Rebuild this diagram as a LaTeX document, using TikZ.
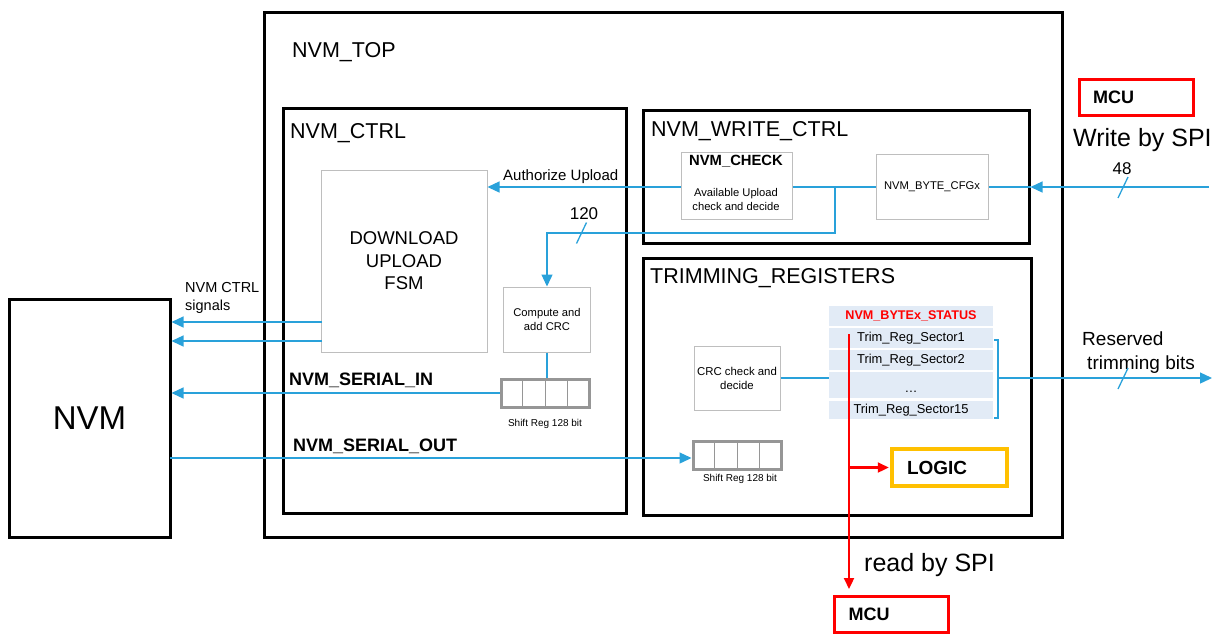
\documentclass[tikz,border=0pt]{standalone}
\usepackage{fontspec}
\setmainfont{Liberation Sans}
\usetikzlibrary{
    arrows.meta,
    calc,
    positioning
}

\definecolor{sigblue}{RGB}{41,161,218}
\definecolor{regfill}{RGB}{226,235,246}
\definecolor{logicorange}{RGB}{255,192,0}
\definecolor{boxgray}{RGB}{190,190,190}
\definecolor{srgray}{RGB}{150,150,150}

\newcommand{\fsz}[2]{\fontsize{#1}{#2}\selectfont}

\begin{document}
\begin{tikzpicture}[x=1pt, y=-1pt,
    frame/.style={draw, line width=3pt, inner sep=0pt},
    frametitle/.style={anchor=west, inner sep=0pt, font=\fsz{21.5}{24}},
    blk/.style={draw=boxgray, line width=1pt, fill=white, align=center, inner sep=0pt},
    sreg/.style={draw=srgray, line width=3pt, minimum width=88pt, minimum height=28pt, inner sep=0pt},
    regrow/.style={fill=regfill, minimum width=164pt, inner sep=0pt, font=\fsz{12.9}{15}},
    mcubox/.style={draw=red, line width=3pt, align=left, inner xsep=14pt, text width=86pt, minimum height=36pt, font=\bfseries\fsz{18}{20}},
    sig/.style={sigblue, line width=1.3pt},
    sigarrow/.style={sig, -{Triangle[length=12pt, width=11pt]}},
    rd/.style={red, line width=2.2pt, -{Triangle[length=11pt, width=10pt]}}
]
                        \useasboundingbox (0,0) rectangle (1230,633);

                        % frames
                        \node[frame, minimum width=798pt, minimum height=525pt] (top) at (663,274.5) {};
                        \node[frametitle] (toplbl) at (292,52) {NVM\_TOP};
                        \node[frame, minimum width=343pt, minimum height=405pt] (ctrl) at (454.5,310.5) {};
                        \node[frametitle] (ctrllbl) at (290,133) {NVM\_CTRL};
                        \node[frame, minimum width=386pt, minimum height=133pt] (wctrl) at (836,176.5) {};
                        \node[frametitle] (wctrllbl) at (651,131) {NVM\_WRITE\_CTRL};
                        \node[frame, minimum width=388pt, minimum height=257pt] (trim) at (837,386.5) {};
                        \node[frametitle] (trimlbl) at (650,278) {TRIMMING\_REGISTERS};
                        \node[frame, minimum width=161pt, minimum height=238pt, font=\fsz{33}{36}] (nvm) at (89.5,418) {NVM};

                        % NVM_CTRL content
                        \node[blk, minimum width=166pt, minimum height=182pt, font=\fsz{18.5}{22.5}] (fsm) at (404,261) {DOWNLOAD\\UPLOAD\\FSM};
                        \node[blk, minimum width=87pt, minimum height=65pt, font=\fsz{11.2}{14}] (crc) at (547,319.5) {Compute and\\add CRC};
                        \node[sreg] (sr1) at (545,393) {};
                        \node[font=\fsz{10}{12}] (sr1lbl) at (545,424) {Shift Reg 128 bit};

                        % NVM_WRITE_CTRL content
                        \node[blk, minimum width=111pt, minimum height=67pt] (check) at (736.5,185.5) {};
                        \node[font=\bfseries\fsz{14.8}{17}] (checkttl) at (736,161.5) {NVM\_CHECK};
                        \node[font=\fsz{11.2}{13.5}, align=center] (checktxt) at (736,199.5) {Available Upload\\check and decide};
                        \node[blk, minimum width=112pt, minimum height=65pt, font=\fsz{11.2}{13}] (cfg) at (932,186.5) {NVM\_BYTE\_CFGx};

                        % TRIMMING_REGISTERS content
                        \node[blk, minimum width=86pt, minimum height=64pt, font=\fsz{11.4}{14}] (crcchk) at (737,378) {CRC check and\\decide};
                        \node[sreg] (sr2) at (737,455) {};
                        \node[font=\fsz{10}{12}] (sr2lbl) at (740,479) {Shift Reg 128 bit};
                        \node[regrow, minimum height=20pt, text=red, font=\bfseries\fsz{12.6}{15}] (hdr) at (911,316) {NVM\_BYTEx\_STATUS};
                        \node[regrow, minimum height=20pt] (row1) at (911,338) {Trim\_Reg\_Sector1};
                        \node[regrow, minimum height=20pt] (row2) at (911,360) {Trim\_Reg\_Sector2};
                        \node[regrow, minimum height=26pt] (row3) at (911,385) {\dots\rule{0pt}{14pt}};
                        \node[regrow, minimum height=18pt] (row4) at (911,410) {Trim\_Reg\_Sector15};
                        \node[draw=logicorange, line width=3.5pt, align=left, inner xsep=15pt, text width=85pt, minimum height=37pt, font=\bfseries\fsz{19}{21}] (logic) at (949.5,467.5) {LOGIC};

                        % outside
                        \node[mcubox] (mcut) at (1136,97) {MCU};
                        \node[mcubox] (mcub) at (891.5,614.5) {MCU};

                        % labels
                        \node[anchor=west, inner sep=0pt, font=\fsz{15}{17}] (authlbl) at (503,177) {Authorize Upload};
                        \node[font=\fsz{17}{19}] (n120) at (584,214) {120};
                        \node[font=\fsz{17}{19}] (n48) at (1122,169) {48};
                        \node[anchor=west, inner sep=0pt, font=\fsz{25}{28}] (wspi) at (1073,140) {Write by SPI};
                        \node[anchor=west, inner sep=0pt, font=\fsz{25}{28}] (rspi) at (864,565) {read by SPI};
                        \node[anchor=west, inner sep=0pt, align=left, font=\fsz{14.5}{18}] (ctrlsig) at (185,298) {NVM CTRL\\signals};
                        \node[anchor=west, inner sep=0pt, font=\bfseries\fsz{18}{20}] (serin) at (289,380) {NVM\_SERIAL\_IN};
                        \node[anchor=west, inner sep=0pt, font=\bfseries\fsz{18}{20}] (serout) at (293,446) {NVM\_SERIAL\_OUT};
                        \node[anchor=west, inner sep=0pt, align=left, font=\fsz{19}{24}] (resv) at (1082,353) {Reserved\\\hspace{5pt}trimming bits};

                        \coordinate (jn) at (835,187);
                        \coordinate (bend) at (835,233);
                        \coordinate (spiin) at (1209,187);
                        \coordinate (sig1) at (322,322);
                        \coordinate (sig2) at (322,341);
                        \coordinate (so) at (170,458);
                        \coordinate (btop) at (998,340);
                        \coordinate (bbot) at (998,418);
                        \coordinate (bm) at (998,378);
                        \coordinate (resvend) at (1212,378);
                        \coordinate (rdtop) at (849,334);
                        \coordinate (t120) at (581.5,233);
                        \coordinate (t48) at (1123,187.5);
                        \coordinate (tresv) at (1123,378.5);

                        \foreach \r in {sr1, sr2}
                            \foreach \i in {1,2,3}
                                \draw[srgray, line width=1pt] ($(\r.south west)!\i/4!(\r.south east)$) -- ($(\r.north west)!\i/4!(\r.north east)$);

                        \draw[sigarrow] (check.west |- jn) -- (fsm.east |- jn);
                        \draw[sig] (check.east |- jn) -- (cfg.west |- jn);
                        \draw[sigarrow] (jn) -- (bend) -| (crc.north);
                        \draw[sigarrow] (spiin) -- (wctrl.east |- spiin);
                        \draw[sig] (wctrl.east |- spiin) -- (cfg.east |- spiin);
                        \draw[sigarrow] (sig1) -- (nvm.east |- sig1);
                        \draw[sigarrow] (sig2) -- (nvm.east |- sig2);
                        \draw[sigarrow] (sr1.west) -- (nvm.east |- sr1.west);
                        \draw[sig] (crc.south) -- (crc.south |- sr1.north);
                        \draw[sigarrow] (so) -- (sr2.west |- so);
                        \draw[sig] (crcchk.east) -- (crcchk.east -| row1.west);
                        \draw[sig] ($(btop)+(-4,0)$) -- (btop) -- (bbot) -- ($(bbot)+(-4,0)$);
                        \draw[sigarrow] (bm) -- (resvend);
                        \foreach \t in {t120, t48, tresv}
                            \draw[sig] ($(\t)+(-5,10.5)$) -- ($(\t)+(5,-10.5)$);

                        \draw[rd, shorten >=6pt] (rdtop) -- (mcub.north -| rdtop);
                        \draw[rd, shorten >=1.5pt] (rdtop |- logic.west) -- (logic.west);
\end{tikzpicture}
\end{document}
